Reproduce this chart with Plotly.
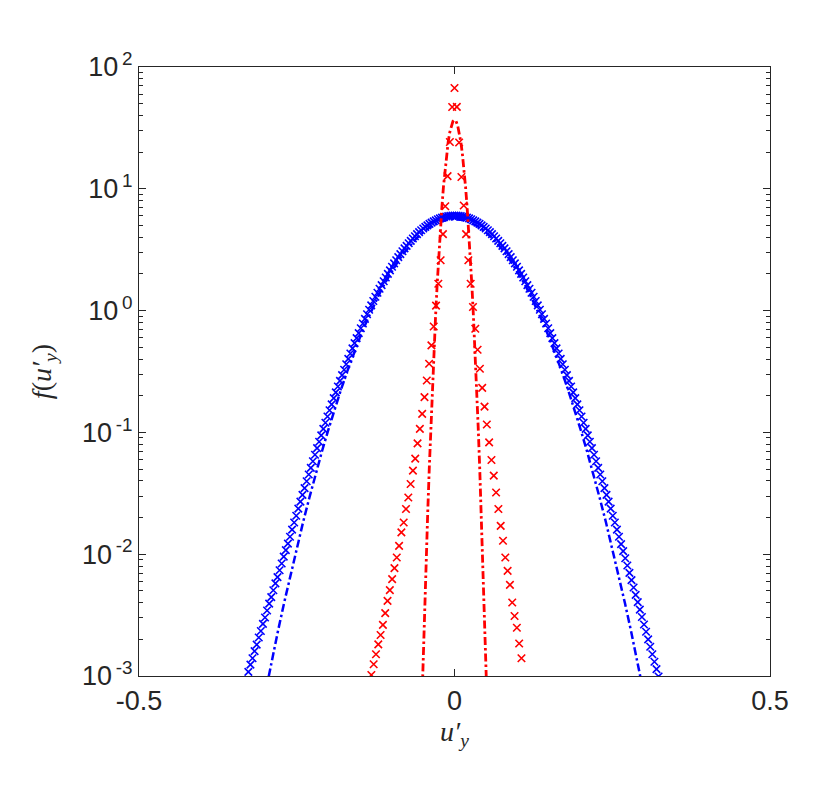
import plotly.graph_objects as go

# ---------------- data ----------------
# blue histogram (bin width 0.0033, first bin centre -0.3267)
blue_bin0 = -0.3267
blue_dx = 0.0033
blue_f = [
    0.00108, 0.00124, 0.00140, 0.00160, 0.00181, 0.00207, 0.00234, 0.00268, 0.00302, 0.00345,
    0.00393, 0.00444, 0.00506, 0.00576, 0.00649, 0.00738, 0.00839, 0.00954, 0.0108, 0.0122,
    0.0139, 0.0159, 0.0182, 0.0207, 0.0237, 0.0270, 0.0307, 0.0349, 0.0397, 0.0451,
    0.0512, 0.0580, 0.0656, 0.0742, 0.0838, 0.0946, 0.107, 0.120, 0.135, 0.152,
    0.170, 0.191, 0.213, 0.238, 0.265, 0.295, 0.327, 0.363, 0.402, 0.444,
    0.490, 0.540, 0.595, 0.653, 0.716, 0.784, 0.856, 0.934, 1.017, 1.105,
    1.20, 1.30, 1.40, 1.51, 1.62, 1.74, 1.87, 2.00, 2.14, 2.29,
    2.44, 2.59, 2.75, 2.91, 3.07, 3.24, 3.40, 3.57, 3.74, 3.91,
    4.08, 4.25, 4.41, 4.57, 4.72, 4.87, 5.01, 5.15, 5.28, 5.40,
    5.51, 5.62, 5.72, 5.80, 5.87, 5.92, 5.97, 6.00, 6.02, 6.03,
    6.02, 6.00, 5.97, 5.92, 5.87, 5.80, 5.72, 5.62, 5.51, 5.40,
    5.28, 5.15, 5.01, 4.87, 4.72, 4.57, 4.41, 4.25, 4.08, 3.91,
    3.74, 3.57, 3.40, 3.24, 3.07, 2.91, 2.75, 2.59, 2.44, 2.29,
    2.14, 2.00, 1.87, 1.74, 1.62, 1.51, 1.40, 1.30, 1.20, 1.105,
    1.017, 0.934, 0.856, 0.784, 0.716, 0.653, 0.595, 0.540, 0.490, 0.444,
    0.402, 0.363, 0.327, 0.295, 0.265, 0.238, 0.213, 0.191, 0.170, 0.152,
    0.135, 0.120, 0.107, 0.0946, 0.0838, 0.0742, 0.0656, 0.0580, 0.0512, 0.0451,
    0.0397, 0.0349, 0.0307, 0.0270, 0.0237, 0.0207, 0.0182, 0.0159, 0.0139, 0.0121,
    0.0106, 0.00926, 0.00807, 0.00703, 0.00612, 0.00533, 0.00464, 0.00404, 0.00351, 0.00305,
    0.00265, 0.00231, 0.00200, 0.00174, 0.00151, 0.00131, 0.00114, 0.000991,
]

# red histogram (bin width 0.00366, bins -36 .. 29 around zero)
red_k0 = -36
red_dx = 0.00366
red_f = [
    1.02e-3, 1.25e-3, 1.51e-3, 1.82e-3, 2.17e-3, 2.63e-3, 3.28e-3, 4.14e-3, 5.07e-3, 6.24e-3,
    7.69e-3, 9.40e-3, 1.17e-2, 1.51e-2, 1.82e-2, 2.35e-2, 2.92e-2, 3.77e-2, 4.85e-2, 6.09e-2,
    8.13e-2, 0.107, 0.142, 0.195, 0.267, 0.366, 0.518, 0.741, 1.10, 1.66,
    2.59, 4.24, 7.19, 12.7, 24.2, 46.9, 67.2, 47.0, 24.0, 12.5,
    7.30, 4.24, 2.59, 1.66, 1.07, 0.710, 0.477, 0.333, 0.232, 0.163,
    0.116, 0.0829, 0.0594, 0.0442, 0.0321, 0.0235, 0.0171, 0.0129, 0.0094, 0.0073,
    0.0056, 0.00401, 0.00311, 0.00249, 0.00185, 0.00140,
]

# Gaussian fit curves, read at regular x
blue_fit_x = [round(-0.31 + 0.01 * i, 3) for i in range(63)]
blue_fit_f = [
    0.000397, 0.000728, 0.00131, 0.00231, 0.00399, 0.00676, 0.0112, 0.0183, 0.0291, 0.0456,
    0.0700, 0.105, 0.155, 0.224, 0.317, 0.441, 0.600, 0.800, 1.047, 1.34,
    1.69, 2.08, 2.51, 2.98, 3.45, 3.93, 4.39, 4.80, 5.14, 5.40,
    5.57, 5.62, 5.57, 5.40, 5.14, 4.80, 4.39, 3.93, 3.45, 2.98,
    2.51, 2.08, 1.69, 1.34, 1.047, 0.800, 0.600, 0.441, 0.317, 0.224,
    0.155, 0.105, 0.0700, 0.0456, 0.0291, 0.0183, 0.0112, 0.00676, 0.00399, 0.00231,
    0.00131, 0.000728, 0.000397,
]
red_fit_x = [round(-0.0525 + 0.0025 * i, 4) for i in range(43)]
red_fit_f = [
    0.000428, 0.00123, 0.00336, 0.00871, 0.0215, 0.0502, 0.112, 0.236, 0.472, 0.899,
    1.63, 2.79, 4.56, 7.06, 10.4, 14.5, 19.3, 24.3, 29.1, 33.1,
    35.8, 36.7, 35.8, 33.1, 29.1, 24.3, 19.3, 14.5, 10.4, 7.06,
    4.56, 2.79, 1.63, 0.899, 0.472, 0.236, 0.112, 0.0502, 0.0215, 0.00871,
    0.00336, 0.00123, 0.000428,
]

blue_x = [round(blue_bin0 + blue_dx * i, 5) for i in range(len(blue_f))]
red_x = [round(red_dx * (red_k0 + i), 5) for i in range(len(red_f))]

x_ticks = [-0.5, 0, 0.5]
x_ticktext = ["-0.5", "0", "0.5"]
y_ticks = [1e-3, 1e-2, 1e-1, 1e0, 1e1, 1e2]
y_ticktext = ["10<sup>\u2009-3</sup>", "10<sup>\u2009-2</sup>", "10<sup>\u2009-1</sup>",
              "10<sup>\u20090</sup>", "10<sup>\u20091</sup>", "10<sup>\u20092</sup>"]
y_minor = [m * 10.0 ** e for e in range(-3, 2) for m in range(2, 10)]

BLUE = "#0000ff"
RED = "#ff0000"
AX = "#262626"

fig = go.Figure()
fig.add_trace(go.Scatter(x=blue_fit_x, y=blue_fit_f, mode="lines",
                         line=dict(color=BLUE, width=2.5, dash="8px,3px,2.5px,3px"),
                         showlegend=False))
fig.add_trace(go.Scatter(x=blue_x, y=blue_f, mode="markers",
                         marker=dict(symbol="x-thin-open", size=7.5, color=BLUE,
                                     line=dict(color=BLUE, width=1.6)),
                         showlegend=False))
fig.add_trace(go.Scatter(x=red_x, y=red_f, mode="markers",
                         marker=dict(symbol="x-thin-open", size=7.5, color=RED,
                                     line=dict(color=RED, width=1.6)),
                         showlegend=False))
fig.add_trace(go.Scatter(x=red_fit_x, y=red_fit_f, mode="lines",
                         line=dict(color=RED, width=2.8, dash="8px,3px,2.5px,3px"),
                         showlegend=False))

tickfont = dict(family="Liberation Sans, Arial, sans-serif", size=27, color=AX)
titlefont = dict(family="Liberation Serif, Times New Roman, serif", size=28, color=AX)

fig.update_layout(
    width=830, height=809,
    margin=dict(l=131, r=68, t=59, b=141),
    paper_bgcolor="white", plot_bgcolor="white",
    xaxis=dict(
        range=[-0.5, 0.5], tickmode="array", tickvals=x_ticks, ticktext=x_ticktext,
        ticks="inside", ticklen=7, tickwidth=1, tickcolor=AX, automargin=False,
        showline=True, linecolor=AX, linewidth=1, mirror="allticks",
        showgrid=False, zeroline=False, tickfont=tickfont, ticklabelstandoff=1,
        title=dict(text="<i>u\u2032<sub>y</sub></i>", font=titlefont, standoff=4),
    ),
    yaxis=dict(
        type="log", range=[-3, 2], tickmode="array", tickvals=y_ticks, ticktext=y_ticktext,
        ticks="inside", ticklen=7, tickwidth=1, tickcolor=AX, automargin=False,
        minor=dict(tickmode="array", tickvals=y_minor, ticks="inside", ticklen=4,
                   tickcolor=AX, showgrid=False),
        showline=True, linecolor=AX, linewidth=1, mirror="allticks",
        showgrid=False, zeroline=False, tickfont=tickfont, ticklabelstandoff=0,
        title=dict(text="<i>f</i>(<i>u\u2032<sub>y</sub></i>)", font=titlefont, standoff=22),
    ),
)

fig.write_html("out.html")
